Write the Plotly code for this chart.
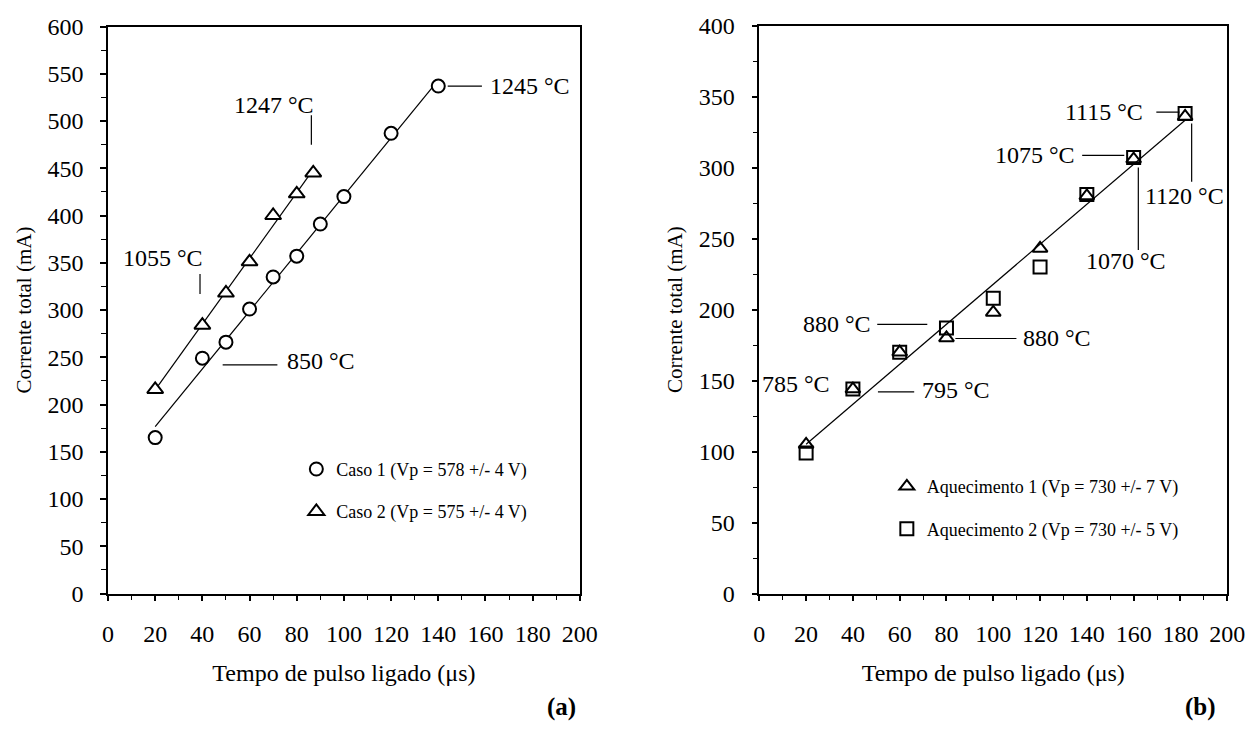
import numpy as np
import plotly.graph_objects as go

# ---------------- data: panel (a) ----------------
caso1_x = [20, 40, 50, 60, 70, 80, 90, 100, 120, 140]
caso1_y = [165, 249, 266, 301, 335, 357, 391, 420, 487, 537]
caso2_x = [20, 40, 50, 60, 70, 80, 87]
caso2_y = [216, 284, 318, 351, 400, 423, 445]
caso1_name = "Caso 1 (Vp = 578 +/- 4 V)"
caso2_name = "Caso 2 (Vp = 575 +/- 4 V)"

# ---------------- data: panel (b) ----------------
aq_x = [20, 40, 60, 80, 100, 120, 140, 160, 182]
aq1_y = [105, 144, 170, 180, 198, 243, 280, 306, 336]
aq2_y = [99, 144, 170, 187, 208, 230, 281, 307, 338]
aq1_name = "Aquecimento 1 (Vp = 730 +/- 7 V)"
aq2_name = "Aquecimento 2 (Vp = 730 +/- 5 V)"

# ---------------- tick labels ----------------
x_ticks = [0, 20, 40, 60, 80, 100, 120, 140, 160, 180, 200]
ya_ticks = [0, 50, 100, 150, 200, 250, 300, 350, 400, 450, 500, 550, 600]
yb_ticks = [0, 50, 100, 150, 200, 250, 300, 350, 400]

x_title = "Tempo de pulso ligado (\u03bcs)"
y_title = "Corrente total (mA)"

# temperature labels
temps_a = ["1245 \u00b0C", "1247 \u00b0C", "1055 \u00b0C", "850 \u00b0C"]
temps_b = ["1115 \u00b0C", "1075 \u00b0C", "1120 \u00b0C", "1070 \u00b0C",
           "880 \u00b0C", "880 \u00b0C", "785 \u00b0C", "795 \u00b0C"]

FONT = "Liberation Serif"
W, H = 1256, 729

fig = go.Figure()

# fitted lines (linear regression of the data)
def fit_line(xs, ys):
    k, b = np.polyfit(xs, ys, 1)
    xe = [min(xs), max(xs)]
    return xe, [k * xe[0] + b, k * xe[1] + b]

for xs, ys, xa, ya in ((caso1_x, caso1_y, "x", "y"),
                       (caso2_x, caso2_y, "x", "y"),
                       (aq_x + aq_x, aq1_y + aq2_y, "x2", "y2")):
    lx, ly = fit_line(xs, ys)
    fig.add_trace(go.Scatter(x=lx, y=ly, mode="lines", line=dict(color="black", width=1.2),
                             showlegend=False, hoverinfo="skip", xaxis=xa, yaxis=ya))

# markers panel (a)
fig.add_trace(go.Scatter(x=caso1_x, y=caso1_y, mode="markers", name=caso1_name,
                         marker=dict(symbol="circle", size=13, color="white",
                                     line=dict(color="black", width=2)),
                         legend="legend", legendgroup="a1", xaxis="x", yaxis="y"))
fig.add_trace(go.Scatter(x=caso2_x, y=caso2_y, mode="markers", name=caso2_name,
                         marker=dict(symbol="triangle-up", size=14, color="white",
                                     line=dict(color="black", width=2)),
                         legend="legend", legendgroup="a2", xaxis="x", yaxis="y"))

# markers panel (b)
fig.add_trace(go.Scatter(x=aq_x, y=aq1_y, mode="markers", name=aq1_name,
                         marker=dict(symbol="triangle-up-open", size=13, color="black",
                                     line=dict(color="black", width=2)),
                         legend="legend2", legendgroup="b1", xaxis="x2", yaxis="y2"))
fig.add_trace(go.Scatter(x=aq_x, y=aq2_y, mode="markers", name=aq2_name,
                         marker=dict(symbol="square-open", size=13, color="black",
                                     line=dict(color="black", width=2)),
                         legend="legend2", legendgroup="b2", xaxis="x2", yaxis="y2"))

# ---------------- annotations ----------------
ann_font = dict(family=FONT, size=24, color="black")
annotations = []
shapes = []

def label(text, x, y, xanchor, ax):
    annotations.append(dict(text=text, x=x, y=y, xref=ax[0], yref=ax[1], showarrow=False,
                            xanchor=xanchor, yanchor="middle", font=ann_font))

def seg(x0, y0, x1, y1, ax):
    shapes.append(dict(type="line", x0=x0, y0=y0, x1=x1, y1=y1, xref=ax[0], yref=ax[1],
                       line=dict(color="black", width=1.2)))

A = ("x", "y")
B = ("x2", "y2")
# panel (a)
label(temps_a[0], 161, 537, "left", A); seg(144, 537, 158.5, 537, A)
label(temps_a[1], 70.5, 517, "center", A); seg(86.2, 506, 86.2, 475, A)
label(temps_a[2], 23.5, 355, "center", A); seg(39, 338, 39, 317, A)
label(temps_a[3], 75, 246, "left", A); seg(48.6, 242, 71.8, 242, A)
# panel (b)
label(temps_b[0], 165, 339, "right", B); seg(169.7, 339, 179.6, 339, B)
label(temps_b[1], 136, 308.6, "right", B); seg(138, 308.6, 156, 308.6, B)
label(temps_b[2], 181.7, 280, "center", B); seg(184.8, 331, 184.8, 290, B)
label(temps_b[3], 156.6, 234, "center", B); seg(162, 300, 162, 242, B)
label(temps_b[4], 48.5, 189.5, "right", B); seg(50.4, 189.5, 71.8, 189.5, B)
label(temps_b[5], 112, 179.6, "left", B); seg(83.8, 179.6, 109.9, 179.6, B)
label(temps_b[6], 31, 147.3, "right", B)
label(temps_b[7], 68.5, 143, "left", B); seg(50.7, 142, 66.2, 142, B)

# panel tags
for t, xp in (("(a)", 566), ("(b)", 1218)):
    annotations.append(dict(text="<b>%s</b>" % t, x=xp / W, y=1 - 720 / H, xref="paper",
                            yref="paper", showarrow=False, xanchor="center", yanchor="middle",
                            font=dict(family=FONT, size=25, color="black")))

def xaxis_style(domain, anchor):
    return dict(domain=domain, anchor=anchor, range=[0, 200], tickvals=x_ticks,
                showline=True, linecolor="black", linewidth=1.5, mirror=True,
                ticks="outside", ticklen=6, tickwidth=1.5, tickcolor="black",
                minor=dict(ticks="outside", ticklen=5, tickwidth=1, tickcolor="black", dtick=10),
                showgrid=False, zeroline=False, ticklabelstandoff=12,
                tickfont=dict(family=FONT, size=24, color="black"),
                title=dict(text=x_title, font=dict(family=FONT, size=24, color="black"),
                           standoff=18))

def yaxis_style(domain, anchor, rng, ticks):
    return dict(domain=domain, anchor=anchor, range=rng, tickvals=ticks,
                showline=True, linecolor="black", linewidth=1.5, mirror=True,
                ticks="outside", ticklen=6, tickwidth=1.5, tickcolor="black",
                minor=dict(ticks="outside", ticklen=5, tickwidth=1, tickcolor="black", dtick=25),
                showgrid=False, zeroline=False, ticklabelstandoff=12,
                ticklabeloverflow="allow",
                tickfont=dict(family=FONT, size=24, color="black"),
                title=dict(text=y_title, font=dict(family=FONT, size=21, color="black"),
                           standoff=10))

legend_common = dict(bgcolor="rgba(0,0,0,0)", borderwidth=0, traceorder="grouped",
                     tracegroupgap=16, xanchor="left", yanchor="top",
                     font=dict(family=FONT, size=18, color="black"))

fig.update_layout(
    width=W, height=H,
    margin=dict(l=0, r=0, t=0, b=0),
    paper_bgcolor="white", plot_bgcolor="white",
    font=dict(family=FONT, color="black"),
    xaxis=xaxis_style([104 / W, 585 / W], "y"),
    yaxis=yaxis_style([1 - 602 / H, 1 - 14 / H], "x", [0, 600], ya_ticks),
    xaxis2=xaxis_style([768 / W, 1245 / W], "y2"),
    yaxis2=yaxis_style([1 - 602 / H, 1 - 13 / H], "x2", [0, 400], yb_ticks),
    legend=dict(x=296 / W, y=1 - 454 / H, **legend_common),
    legend2=dict(x=898 / W, y=1 - 472 / H, **legend_common),
    annotations=annotations,
    shapes=shapes,
    showlegend=True,
)

fig.write_html("out.html")
